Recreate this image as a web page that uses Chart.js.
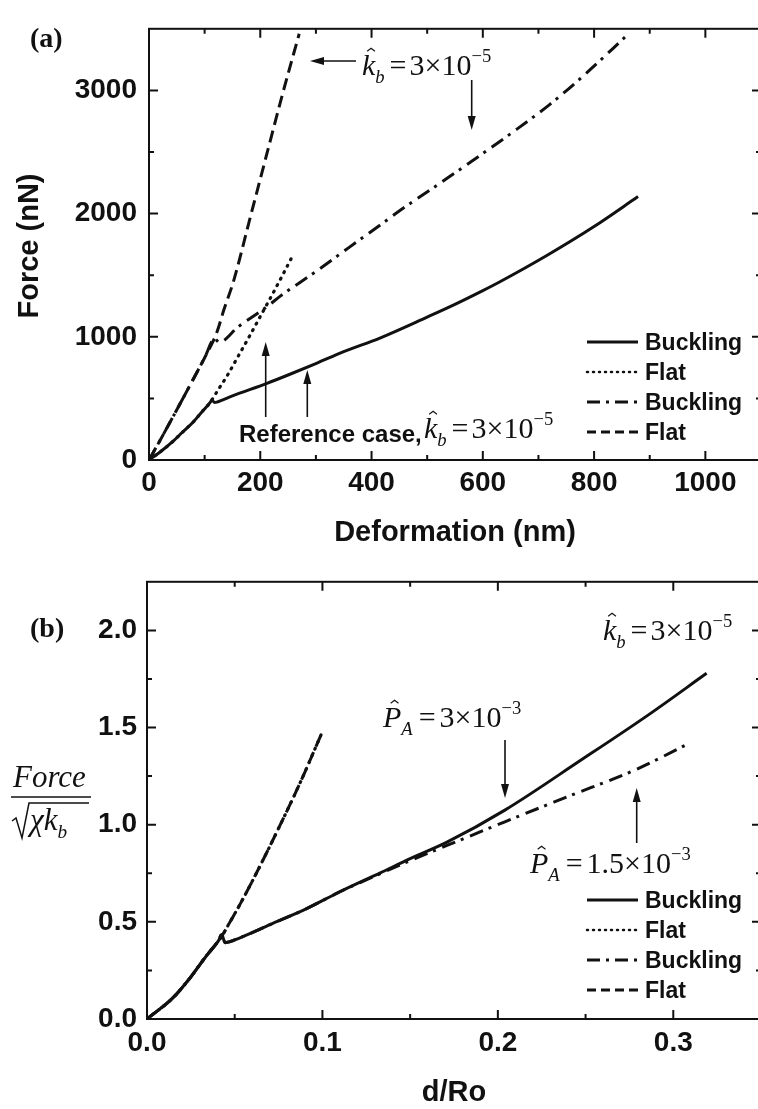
<!DOCTYPE html>
<html>
<head>
<meta charset="utf-8">
<title>Force vs deformation</title>
<script src="https://cdn.jsdelivr.net/npm/chart.js@4.4.1/dist/chart.umd.min.js"></script>
<style>
  html, body { margin: 0; padding: 0; background: #fff; width: 758px; height: 1109px; overflow: hidden; }
  .panel { position: absolute; left: 0; }
  #panelA { top: 0; }
  #panelB { top: 555px; }
</style>
</head>
<body>
<div class="panel" id="panelA"><canvas id="chartA" width="770" height="555"></canvas></div>
<div class="panel" id="panelB"><canvas id="chartB" width="770" height="556"></canvas></div>
<script>
// ---- panel (a): Force (nN) vs Deformation (nm) ----
// reference case (solid = buckling, dotted = flat)
const refBuckleX = [0, 20, 44, 60, 80, 95, 110, 113, 118, 122, 150, 212, 250, 301, 350, 415, 500, 546, 600, 630, 715, 800, 879];
const refBuckleY = [0, 65, 155, 225, 311, 390, 467, 488, 466, 470, 520, 622, 690, 785, 880, 990, 1160, 1255, 1375, 1445, 1660, 1895, 2138];
const refFlatX = [0, 20, 44, 60, 80, 95, 110, 113, 125, 140, 160, 180, 200, 220, 240, 259];
const refFlatY = [0, 65, 155, 225, 311, 390, 467, 488, 575, 680, 840, 1000, 1165, 1330, 1500, 1665];
// second case (dash-dot = buckling, dashed = flat)
const stiffBuckleX = [0, 20, 44, 80, 100, 118, 126, 160, 212, 236, 300, 361, 415, 451, 508, 580, 655, 720, 775, 861];
const stiffBuckleY = [0, 160, 358, 660, 830, 985, 955, 1080, 1244, 1330, 1530, 1730, 1905, 2025, 2200, 2425, 2665, 2885, 3095, 3455];
const stiffFlatX = [0, 20, 44, 80, 100, 122, 135, 152, 182, 212, 240, 270];
const stiffFlatY = [0, 160, 358, 660, 830, 1037, 1225, 1452, 1970, 2488, 2970, 3460];

// ---- panel (b): Force/sqrt(chi kb) vs d/Ro ----
const pa3BuckleX = [0, 0.015, 0.0245, 0.034, 0.0407, 0.0426, 0.0445, 0.053, 0.072, 0.091, 0.110, 0.133, 0.150, 0.171, 0.204, 0.247, 0.285, 0.319];
const pa3BuckleY = [0, 0.111, 0.211, 0.327, 0.402, 0.435, 0.393, 0.418, 0.493, 0.568, 0.655, 0.752, 0.825, 0.91, 1.075, 1.33, 1.56, 1.779];
const pa15BuckleX = [0, 0.015, 0.0245, 0.034, 0.0407, 0.0426, 0.0445, 0.053, 0.072, 0.091, 0.110, 0.133, 0.150, 0.171, 0.204, 0.240, 0.279, 0.310];
const pa15BuckleY = [0, 0.111, 0.211, 0.327, 0.402, 0.435, 0.393, 0.418, 0.493, 0.568, 0.655, 0.748, 0.815, 0.893, 1.015, 1.145, 1.285, 1.423];
const flatBX = [0, 0.015, 0.0245, 0.034, 0.0407, 0.0426, 0.0464, 0.053, 0.0626, 0.076, 0.088, 0.0997];
const flatBY = [0, 0.111, 0.211, 0.327, 0.402, 0.425, 0.485, 0.59, 0.755, 1.0, 1.23, 1.473];

const legendLabels = ['Buckling', 'Flat', 'Buckling', 'Flat'];

// tick values
const xTicksA = [0, 200, 400, 600, 800, 1000];
const xMinorA = [100, 300, 500, 700, 900];
const yTicksA = [0, 1000, 2000, 3000];
const yMinorA = [500, 1500, 2500];
const xTicksB = [0, 0.1, 0.2, 0.3];
const xMinorB = [0.05, 0.15, 0.25];
const yTicksB = [0, 0.5, 1.0, 1.5, 2.0];
const yMinorB = [0.25, 0.75, 1.25, 1.75];

const INK = '#111';
const SANS = '"Liberation Sans", Arial, sans-serif';
const SERIF = '"Liberation Serif", "Times New Roman", serif';
const offB = 555; // top of panel (b) on the page

// solid, dotted, dash-dot, dashed
const styles = [
  { dash: [], cap: 'butt', legendDash: [], width: 3 },
  { dash: [1, 6.3], cap: 'round', legendDash: [1, 5], width: 3.2 },
  { dash: [14, 6, 3, 7], cap: 'butt', legendDash: [13, 6, 3, 6], width: 3 },
  { dash: [12, 6], cap: 'butt', legendDash: [9, 5], width: 3 }
];

function pts(xs, ys) { return xs.map((x, i) => ({ x: x, y: ys[i] })); }

function makeDatasets(series) {
  return series.map((s, i) => ({
    label: legendLabels[i],
    data: pts(s[0], s[1]),
    borderColor: INK,
    borderWidth: styles[i].width,
    borderDash: styles[i].dash,
    borderCapStyle: styles[i].cap,
    pointRadius: 0,
    cubicInterpolationMode: 'monotone',
    fill: false
  }));
}

function arrow(ctx, x1, y1, x2, y2) {
  const a = Math.atan2(y2 - y1, x2 - x1), L = 14, W = 4;
  const c = Math.cos(a), s = Math.sin(a);
  ctx.save();
  ctx.strokeStyle = INK; ctx.fillStyle = INK; ctx.lineWidth = 1.6; ctx.setLineDash([]);
  ctx.beginPath(); ctx.moveTo(x1, y1); ctx.lineTo(x2 - L * 0.8 * c, y2 - L * 0.8 * s); ctx.stroke();
  ctx.beginPath(); ctx.moveTo(x2, y2);
  ctx.lineTo(x2 - L * c + W * s, y2 - L * s - W * c);
  ctx.lineTo(x2 - L * c - W * s, y2 - L * s + W * c);
  ctx.closePath(); ctx.fill();
  ctx.restore();
}

// simple inline math: parts with italic / sub / sup / hat
function drawMath(ctx, x, y, parts, size) {
  ctx.save();
  ctx.fillStyle = INK; ctx.strokeStyle = INK;
  ctx.textAlign = 'left'; ctx.textBaseline = 'alphabetic';
  let cx = x;
  parts.forEach(p => {
    const fs = (p.sub || p.sup) ? size * 0.62 : size;
    ctx.font = (p.it ? 'italic ' : '') + fs + 'px ' + SERIF;
    const dy = p.sub ? size * 0.27 : (p.sup ? -size * 0.42 : 0);
    ctx.fillText(p.t, cx, y + dy);
    const w = ctx.measureText(p.t).width;
    if (p.hat) {
      const hx = cx + w * 0.5 + size * 0.08, hy = y - size * 0.86;
      ctx.lineWidth = 1.1; ctx.beginPath();
      ctx.moveTo(hx - size * 0.13, hy + size * 0.07);
      ctx.lineTo(hx, hy - size * 0.03);
      ctx.lineTo(hx + size * 0.13, hy + size * 0.07);
      ctx.stroke();
    }
    cx += w + (p.gap || 0);
  });
  ctx.restore();
}

function drawLegend(ctx, chart, rows) {
  chart.data.datasets.forEach((ds, i) => {
    const y = rows[i];
    ctx.save();
    ctx.strokeStyle = INK; ctx.lineWidth = i === 1 ? 2.5 : 3;
    ctx.setLineDash(styles[i].legendDash); ctx.lineCap = styles[i].cap;
    ctx.beginPath(); ctx.moveTo(587, y); ctx.lineTo(638, y); ctx.stroke();
    ctx.restore();
    ctx.save();
    ctx.fillStyle = INK; ctx.font = 'bold 23px ' + SANS;
    ctx.textAlign = 'left'; ctx.textBaseline = 'alphabetic';
    ctx.fillText(ds.label, 645, y + 8);
    ctx.restore();
  });
}

// frame, inward ticks on all four sides, legend and notes
function makeDecor(cfg) {
  return {
    id: 'decor',
    afterDraw(chart) {
      const { ctx, chartArea: a } = chart;
      const sx = chart.scales.x, sy = chart.scales.y;
      ctx.save();
      ctx.strokeStyle = INK; ctx.lineWidth = 2; ctx.setLineDash([]);
      ctx.strokeRect(a.left, a.top, a.right - a.left, a.bottom - a.top);
      ctx.beginPath();
      const hT = (vals, len) => vals.forEach(v => {
        const p = sx.getPixelForValue(v);
        ctx.moveTo(p, a.bottom); ctx.lineTo(p, a.bottom - len);
        ctx.moveTo(p, a.top); ctx.lineTo(p, a.top + len);
      });
      const vT = (vals, len) => vals.forEach(v => {
        const p = sy.getPixelForValue(v);
        ctx.moveTo(a.left, p); ctx.lineTo(a.left + len, p);
        ctx.moveTo(a.right, p); ctx.lineTo(a.right - len, p);
      });
      hT(cfg.xMajor, 9); hT(cfg.xMinor, 5); vT(cfg.yMajor, 9); vT(cfg.yMinor, 5);
      ctx.stroke();
      ctx.restore();
      drawLegend(ctx, chart, cfg.legendRows);
      cfg.notes(ctx);
    }
  };
}

function scaleOpts(min, max, ticks, fmt, size, pad, title, horizontal) {
  const o = {
    type: 'linear', min: min, max: max,
    afterBuildTicks: s => { s.ticks = ticks.map(v => ({ value: v })); },
    afterFit: s => { if (horizontal) s.height = size; else s.width = size; },
    grid: { display: false, drawTicks: false },
    border: { display: false },
    ticks: {
      color: INK, padding: pad, autoSkip: false, maxRotation: 0,
      font: { family: SANS, size: 28, weight: 'bold' },
      callback: v => fmt(v)
    }
  };
  if (title) {
    o.title = { display: true, text: title.text, color: INK,
      font: { family: SANS, size: 29, weight: 'bold' }, padding: { top: 0, bottom: title.pad } };
  }
  return o;
}

const kbParts = [
  { t: 'k', it: true, hat: true }, { t: 'b', it: true, sub: true, gap: 5 },
  { t: '=', gap: 3 }, { t: '3×10' }, { t: '−5', sup: true }
];

new Chart(document.getElementById('chartA'), {
  type: 'line',
  data: { datasets: makeDatasets([[refBuckleX, refBuckleY], [refFlatX, refFlatY], [stiffBuckleX, stiffBuckleY], [stiffFlatX, stiffFlatY]]) },
  options: {
    responsive: false, animation: false,
    layout: { padding: { top: 10, right: 9, left: 0, bottom: 0 } },
    plugins: { legend: { display: false }, tooltip: { enabled: false } },
    scales: {
      x: scaleOpts(0, 1100, xTicksA, v => String(v), 95, 6, { text: 'Deformation (nm)', pad: 5 }, true),
      y: scaleOpts(0, 3500, yTicksA, v => String(v), 149, 12, null, false)
    }
  },
  plugins: [makeDecor({
    xMajor: xTicksA, xMinor: xMinorA, yMajor: yTicksA, yMinor: yMinorA,
    legendRows: [342, 372, 402, 432],
    notes: ctx => {
      ctx.save();
      ctx.fillStyle = INK;
      ctx.font = 'bold 28px ' + SERIF;
      ctx.fillText('(a)', 30, 47);
      ctx.translate(29.5, 246); ctx.rotate(-Math.PI / 2);
      ctx.font = 'bold 29px ' + SANS; ctx.textAlign = 'center'; ctx.textBaseline = 'middle';
      ctx.fillText('Force (nN)', 0, 0);
      ctx.restore();
      drawMath(ctx, 362, 75, kbParts, 30);
      arrow(ctx, 356, 61, 310, 61);
      arrow(ctx, 471.7, 80, 471.7, 130);
      ctx.save();
      ctx.fillStyle = INK; ctx.font = 'bold 24px ' + SANS;
      ctx.fillText('Reference case,', 239, 442);
      ctx.restore();
      drawMath(ctx, 424, 438, kbParts, 30);
      arrow(ctx, 265.7, 417, 265.7, 342);
      arrow(ctx, 307.3, 417, 307.3, 370);
    }
  })]
});

new Chart(document.getElementById('chartB'), {
  type: 'line',
  data: { datasets: makeDatasets([[pa3BuckleX, pa3BuckleY], [flatBX, flatBY], [pa15BuckleX, pa15BuckleY], [flatBX, flatBY]]) },
  options: {
    responsive: false, animation: false,
    layout: { padding: { top: 13, right: 9, left: 0, bottom: 0 } },
    plugins: { legend: { display: false }, tooltip: { enabled: false } },
    scales: {
      x: scaleOpts(0, 0.35, xTicksB, v => v.toFixed(1), 92, 7, { text: 'd/Ro', pad: 1 }, true),
      y: scaleOpts(0, 2.25, yTicksB, v => v.toFixed(1), 147, 10, null, false)
    }
  },
  plugins: [makeDecor({
    xMajor: xTicksB, xMinor: xMinorB, yMajor: yTicksB, yMinor: yMinorB,
    legendRows: [900 - offB, 930 - offB, 960 - offB, 990 - offB],
    notes: ctx => {
      ctx.save();
      ctx.fillStyle = INK; ctx.strokeStyle = INK;
      ctx.font = 'bold 28px ' + SERIF;
      ctx.fillText('(b)', 30, 637 - offB);
      // fraction label Force / sqrt(chi kb)
      ctx.font = 'italic 31px ' + SERIF;
      ctx.fillText('Force', 13, 787 - offB);
      ctx.lineWidth = 1.5;
      ctx.beginPath(); ctx.moveTo(11, 797 - offB); ctx.lineTo(91, 797 - offB); ctx.stroke();
      ctx.beginPath();
      ctx.moveTo(12, 821 - offB); ctx.lineTo(16, 818 - offB); ctx.lineTo(22, 838 - offB);
      ctx.lineTo(29, 803 - offB); ctx.lineTo(89, 803 - offB);
      ctx.stroke();
      ctx.restore();
      drawMath(ctx, 30, 830 - offB, [{ t: 'χk', it: true }, { t: 'b', it: true, sub: true }], 31);
      drawMath(ctx, 603, 640 - offB, kbParts, 30);
      drawMath(ctx, 383, 727 - offB, [
        { t: 'P', it: true, hat: true }, { t: 'A', it: true, sub: true, gap: 6 },
        { t: '=', gap: 4 }, { t: '3×10' }, { t: '−3', sup: true }], 30);
      arrow(ctx, 505, 740 - offB, 505, 798 - offB);
      drawMath(ctx, 530, 873 - offB, [
        { t: 'P', it: true, hat: true }, { t: 'A', it: true, sub: true, gap: 6 },
        { t: '=', gap: 4 }, { t: '1.5×10' }, { t: '−3', sup: true }], 30);
      arrow(ctx, 636.7, 843 - offB, 636.7, 788 - offB);
    }
  })]
});
</script>
</body>
</html>
